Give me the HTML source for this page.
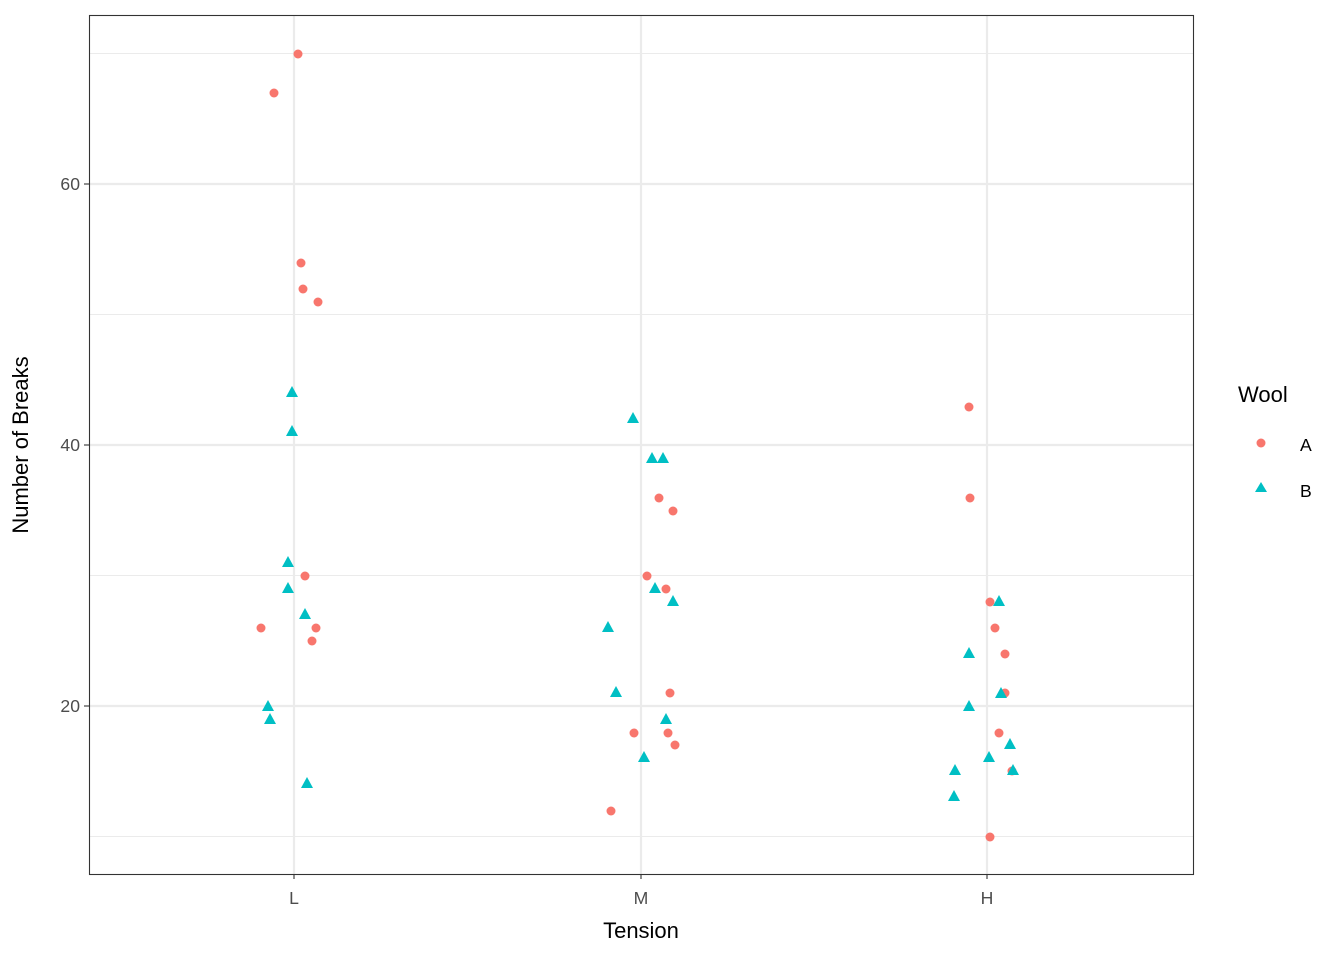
<!DOCTYPE html>
<html><head><style>body{margin:0;background:#fff}svg{display:block}</style></head><body>
<svg width="1344" height="960" xmlns="http://www.w3.org/2000/svg" font-family="Liberation Sans, Arial, sans-serif">
<rect width="1344" height="960" fill="#fff"/>
<g stroke="#ebebeb" stroke-width="1.1">
<line x1="89" x2="1193" y1="53.5" y2="53.5"/><line x1="89" x2="1193" y1="314.5" y2="314.5"/>
<line x1="89" x2="1193" y1="575.5" y2="575.5"/><line x1="89" x2="1193" y1="836.5" y2="836.5"/>
</g>
<g stroke="#ebebeb" stroke-width="2.2">
<line x1="89" x2="1193" y1="184" y2="184"/><line x1="89" x2="1193" y1="445" y2="445"/><line x1="89" x2="1193" y1="706" y2="706"/>
<line x1="294" x2="294" y1="15" y2="874"/><line x1="641" x2="641" y1="15" y2="874"/><line x1="987" x2="987" y1="15" y2="874"/>
</g>
<rect x="89.5" y="15.5" width="1104" height="859" fill="none" stroke="#333" stroke-width="1.1"/>
<g stroke="#333" stroke-width="1.1">
<line x1="84" x2="89" y1="184" y2="184"/><line x1="84" x2="89" y1="445" y2="445"/><line x1="84" x2="89" y1="706" y2="706"/>
<line x1="294" x2="294" y1="874" y2="879"/><line x1="641" x2="641" y1="874" y2="879"/><line x1="987" x2="987" y1="874" y2="879"/>
</g>
<g fill="#4d4d4d" font-size="17.6" text-anchor="end">
<text x="80" y="190">60</text><text x="80" y="451">40</text><text x="80" y="712">20</text>
</g>
<g fill="#4d4d4d" font-size="17.6" text-anchor="middle">
<text x="294" y="904">L</text><text x="641" y="904">M</text><text x="987" y="904">H</text>
</g>
<text x="641" y="938" font-size="22" text-anchor="middle">Tension</text>
<text transform="translate(28,445) rotate(-90)" font-size="22" text-anchor="middle">Number of Breaks</text>
<text x="1238" y="402" font-size="22">Wool</text>
<text x="1300" y="451" font-size="17.6">A</text><text x="1300" y="497" font-size="17.6">B</text>
<circle cx="1261" cy="443" r="4.5" fill="#F8766D"/>
<polygon points="1261,482 1267,492 1255,492" fill="#00BFC4"/>
<g transform="translate(0,1)">
<g fill="#F8766D">
<circle cx="298" cy="53" r="4.5"/><circle cx="274" cy="92" r="4.5"/><circle cx="301" cy="262" r="4.5"/><circle cx="303" cy="288" r="4.5"/><circle cx="318" cy="301" r="4.5"/><circle cx="305" cy="575" r="4.5"/><circle cx="261" cy="627" r="4.5"/><circle cx="316" cy="627" r="4.5"/><circle cx="312" cy="640" r="4.5"/>
<circle cx="659" cy="497" r="4.5"/><circle cx="673" cy="510" r="4.5"/><circle cx="647" cy="575" r="4.5"/><circle cx="666" cy="588" r="4.5"/><circle cx="670" cy="692" r="4.5"/><circle cx="634" cy="732" r="4.5"/><circle cx="668" cy="732" r="4.5"/><circle cx="675" cy="744" r="4.5"/><circle cx="611" cy="810" r="4.5"/>
<circle cx="969" cy="406" r="4.5"/><circle cx="970" cy="497" r="4.5"/><circle cx="990" cy="601" r="4.5"/><circle cx="995" cy="627" r="4.5"/><circle cx="1005" cy="653" r="4.5"/><circle cx="1005" cy="692" r="4.5"/><circle cx="999" cy="732" r="4.5"/><circle cx="1012" cy="770" r="4.5"/><circle cx="990" cy="836" r="4.5"/>
</g>
<g fill="#00BFC4">
<polygon points="292,385 298,396 286,396"/><polygon points="292,424 298,435 286,435"/><polygon points="288,555 294,566 282,566"/><polygon points="288,581 294,592 282,592"/><polygon points="305,607 311,618 299,618"/><polygon points="268,699 274,710 262,710"/><polygon points="270,712 276,723 264,723"/><polygon points="307,776 313,787 301,787"/>
<polygon points="633,411 639,422 627,422"/><polygon points="652,451 658,462 646,462"/><polygon points="663,451 669,462 657,462"/><polygon points="655,581 661,592 649,592"/><polygon points="673,594 679,605 667,605"/><polygon points="608,620 614,631 602,631"/><polygon points="616,685 622,696 610,696"/><polygon points="666,712 672,723 660,723"/><polygon points="644,750 650,761 638,761"/>
<polygon points="999,594 1005,605 993,605"/><polygon points="969,646 975,657 963,657"/><polygon points="1001,686 1007,697 995,697"/><polygon points="969,699 975,710 963,710"/><polygon points="1010,737 1016,748 1004,748"/><polygon points="989,750 995,761 983,761"/><polygon points="955,763 961,774 949,774"/><polygon points="1013,763 1019,774 1007,774"/><polygon points="954,789 960,800 948,800"/>
</g>
</g>
</svg>
</body></html>
